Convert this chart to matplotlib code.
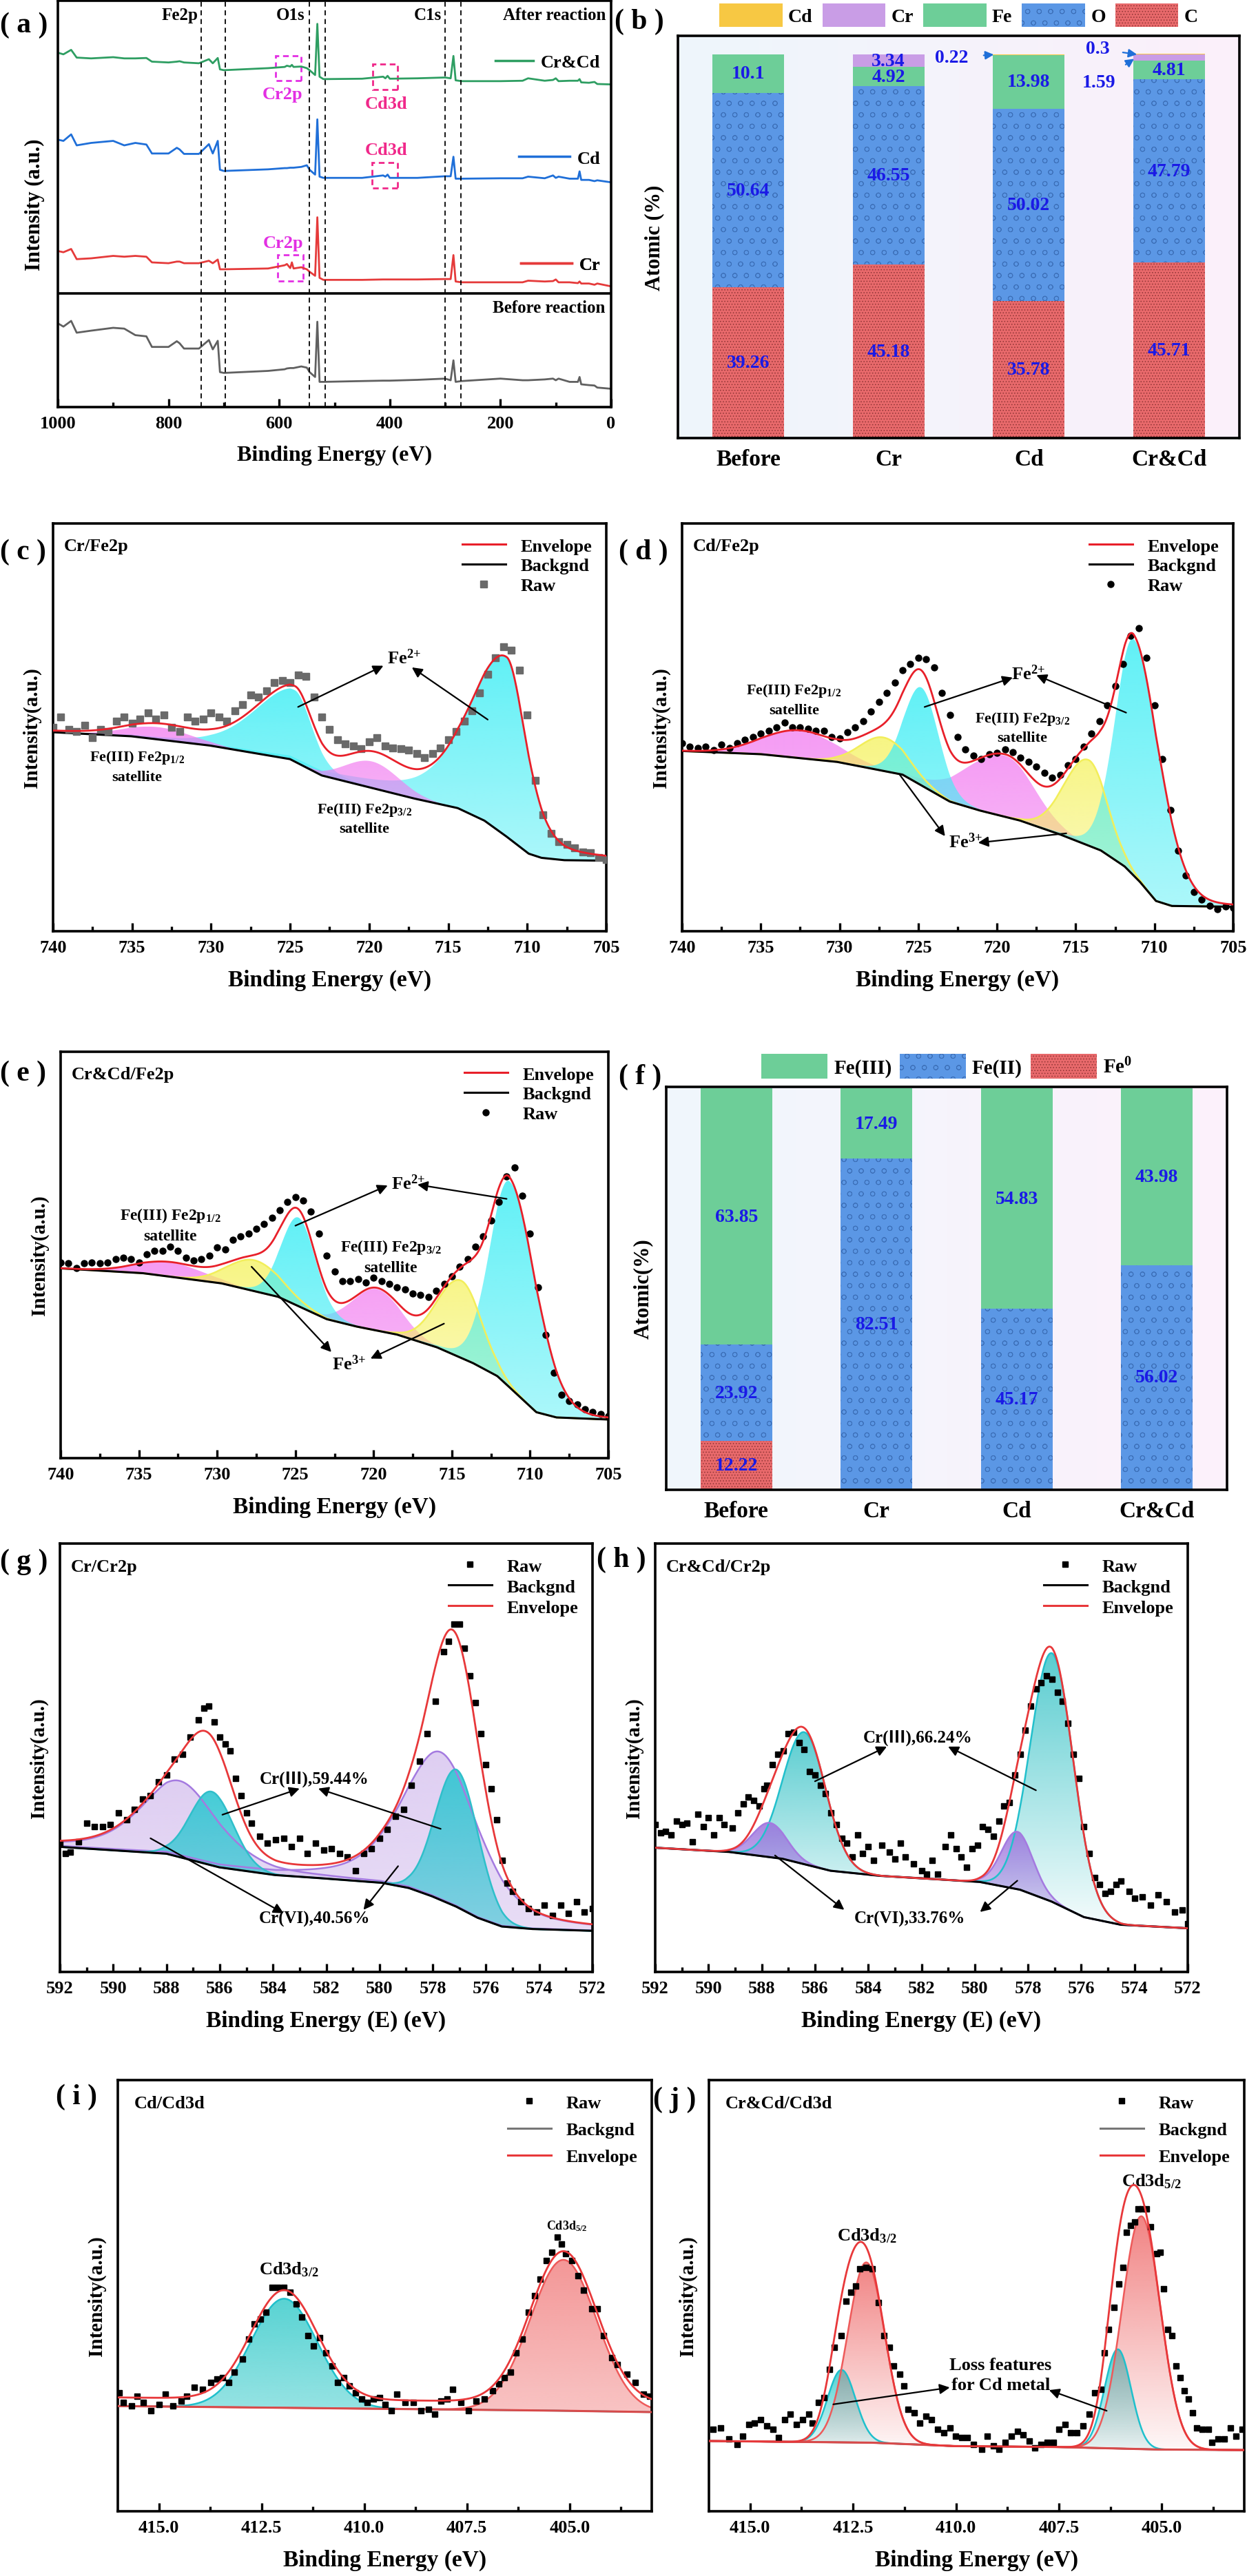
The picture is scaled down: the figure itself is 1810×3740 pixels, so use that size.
import numpy as np
import matplotlib
matplotlib.use("Agg")
import matplotlib.pyplot as plt
from matplotlib.colors import to_rgb
from matplotlib.lines import Line2D
from matplotlib.patches import Patch, Rectangle
from matplotlib.ticker import MultipleLocator, FormatStrFormatter

plt.rcParams['font.family'] = ['Liberation Serif', 'Noto Sans CJK SC']
plt.rcParams['font.weight'] = 'bold'
plt.rcParams['axes.labelweight'] = 'bold'
plt.rcParams['mathtext.default'] = 'regular'
plt.rcParams['axes.linewidth'] = 2.6
plt.rcParams['hatch.linewidth'] = 0.6

# ---------------- (a) survey spectra (y in % of panel height) ----------------
survey_x = [1000, 990, 976, 966, 940, 900, 880, 860, 840, 830, 800, 785, 780, 772, 745,
            727, 720, 711, 707, 700, 620, 590, 586, 580, 577, 574, 560, 550, 545, 535,
            531, 527, 520, 450, 412, 408, 404, 400, 350, 300, 290, 285, 281, 270, 200,
            160, 150, 120, 105, 100, 95, 75, 60, 57, 54, 40, 30, 25, 0]
survey_crcd = [87.2, 86.8, 87.9, 86.0, 85.8, 86.1, 85.8, 85.8, 85.9, 85.0, 84.8, 85.0, 85.1, 84.8, 84.6,
               85.6, 84.6, 85.9, 83.1, 82.9, 83.4, 83.7, 84.0, 83.8, 84.2, 83.7, 83.8, 83.4, 82.9, 81.7,
               94.3, 81.3, 80.7, 80.8, 81.3, 80.9, 81.5, 80.8, 80.9, 81.1, 80.9, 86.4, 80.4, 80.2, 80.2,
               80.3, 80.9, 80.3, 80.5, 80.9, 80.2, 80.3, 80.3, 80.7, 79.9, 79.8, 80.0, 79.5, 79.4]
survey_cd = [65.8, 65.5, 67.1, 64.4, 65.0, 65.5, 64.4, 65.0, 64.6, 62.4, 62.4, 63.8, 63.4, 62.3, 62.3,
             64.7, 62.4, 65.5, 58.4, 58.1, 58.5, 58.8, 58.8, 58.9, 58.9, 58.9, 59.1, 59.5, 58.4, 57.2,
             70.8, 56.7, 56.4, 56.4, 57.0, 56.7, 57.2, 56.4, 56.4, 56.8, 56.8, 61.6, 56.2, 56.2, 56.3,
             56.3, 56.7, 56.3, 57.0, 56.4, 56.7, 56.2, 56.2, 58.0, 55.9, 55.9, 55.6, 55.8, 55.3]
survey_cr = [38.4, 38.1, 38.9, 36.4, 36.6, 37.2, 37.0, 37.2, 37.0, 35.6, 35.4, 35.8, 35.8, 35.4, 35.4,
             36.0, 35.4, 36.3, 33.9, 33.9, 34.1, 34.9, 35.2, 34.2, 35.6, 34.1, 34.4, 33.9, 33.3, 32.3,
             46.7, 31.8, 31.3, 31.3, 31.4, 31.4, 31.4, 31.4, 31.4, 31.5, 31.5, 37.4, 30.9, 30.7, 30.7,
             30.7, 31.1, 30.9, 31.0, 31.4, 30.7, 30.7, 30.5, 30.9, 30.4, 30.4, 30.1, 30.4, 29.7]
survey_before = [20.6, 19.8, 21.2, 18.3, 18.8, 19.5, 19.3, 17.7, 17.4, 14.8, 14.8, 16.2, 15.7, 14.4, 14.4,
                 16.5, 14.2, 16.3, 8.6, 8.4, 8.9, 9.3, 9.5, 9.6, 9.6, 9.6, 10.0, 9.7, 8.6, 7.4,
                 21.0, 6.2, 6.2, 6.4, 6.5, 6.5, 6.5, 6.5, 6.7, 7.0, 6.6, 11.5, 6.2, 6.4, 7.0,
                 6.6, 6.6, 6.8, 7.0, 6.6, 7.0, 6.2, 6.2, 7.4, 5.6, 5.4, 5.3, 4.8, 4.5]
guide_lines = [741, 698, 545, 517, 300, 272]

# ---------------- (b) surface composition ----------------
samples = ['Before', 'Cr', 'Cd', 'Cr&Cd']
at_C = [39.26, 45.18, 35.78, 45.71]
at_O = [50.64, 46.55, 50.02, 47.79]
at_Fe = [10.1, 4.92, 13.98, 4.81]
at_Cr = [0, 3.34, 0, 1.59]
at_Cd = [0, 0, 0.22, 0.3]

# ---------------- (f) Fe valence ----------------
fe_0 = [12.22, 0, 0, 0]
fe_II = [23.92, 82.51, 45.17, 56.02]
fe_III = [63.85, 17.49, 54.83, 43.98]

# ---------------- (c) Cr/Fe2p ----------------
fe_raw_x = np.arange(740, 704.9, -0.5)
c_raw = [50.0, 52.5, 49.5, 49.0, 50.5, 47.5, 49.5, 49.0, 51.5, 52.5,
         51.0, 52.0, 53.5, 52.0, 53.0, 50.0, 49.0, 52.5, 51.5, 52.0,
         53.5, 52.5, 51.5, 54.0, 55.5, 58.0, 57.5, 59.0, 61.0, 61.5,
         61.0, 62.8, 62.5, 57.5, 52.5, 49.5, 47.0, 46.0, 45.5, 44.8,
         46.5, 47.5, 45.5, 45.0, 44.8, 44.5, 43.5, 42.5, 43.5, 45.0,
         47.0, 49.0, 51.5, 54.0, 58.5, 63.0, 67.0, 69.8, 69.0, 64.0,
         53.0, 37.0, 28.5, 24.0, 22.0, 21.3, 20.5, 19.5, 19.2, 18.0,
         17.5]
c_bg_x = [740, 735, 730, 725, 723, 720, 717, 714.4, 712.7, 711.2, 709.9, 709.1, 707.6, 705]
c_bg_y = [48.8, 47.8, 45.5, 42.2, 38.2, 35.3, 32.4, 30.2, 27.1, 22.9, 19.0, 18.0, 17.4, 17.3]
c_kind = ['Fe2+', 'Fe2+', 'sat', 'sat']
c_center = [711.3, 724.7, 719.8, 733.3]
c_height = [44.0, 17.5, 6.5, 3.0]
c_hw_high = [2.8, 3.0, 2.0, 2.5]
c_hw_low = [1.5, 1.3, 2.0, 2.5]
c_eta = [0.5, 0.3, 0.0, 0.0]

# ---------------- (d) Cd/Fe2p ----------------
d_raw = [46.1, 45.3, 44.9, 45.3, 44.5, 45.7, 44.9, 46.1, 46.9, 47.7,
         48.4, 49.2, 50.0, 51.2, 50.0, 50.0, 49.6, 49.2, 49.2, 47.7,
         47.3, 48.8, 50.0, 51.6, 53.9, 56.2, 58.5, 60.9, 64.0, 65.5,
         67.1, 66.7, 64.7, 58.5, 53.1, 47.7, 44.6, 43.0, 42.2, 43.4,
         43.8, 44.6, 44.0, 42.6, 41.5, 40.3, 38.8, 37.6, 38.4, 40.7,
         42.2, 45.3, 48.4, 51.6, 55.4, 60.1, 65.5, 72.5, 74.4, 67.1,
         55.4, 42.2, 29.8, 19.8, 13.6, 9.7, 7.8, 6.2, 5.4, 6.0,
         5.8]
d_bg_x = [740, 734.9, 730.1, 726, 723, 721, 718.5, 715.9, 713.4, 711.9, 710.9, 709.9, 708.9, 705]
d_bg_y = [44.2, 43.4, 41.5, 38.4, 31.8, 29.5, 27.1, 23.6, 19.8, 15.9, 12.0, 7.4, 6.2, 6.0]
d_kind = ['sat', 'sat', 'Fe3+', 'Fe3+', 'Fe2+', 'Fe2+']
d_center = [732.5, 719.5, 727.2, 714.2, 724.8, 711.3]
d_height = [6.7, 15.0, 8.2, 21.0, 24.0, 58.0]
d_hw_high = [2.8, 3.0, 1.8, 1.8, 1.3, 1.4]
d_hw_low = [2.8, 2.2, 1.8, 1.4, 1.3, 1.95]
d_eta = [0.0, 0.0, 0.0, 0.0, 0.1, 0.1]

# ---------------- (e) Cr&Cd/Fe2p ----------------
e_raw = [48.2, 47.9, 46.7, 47.9, 48.2, 47.9, 48.2, 49.0, 49.4, 49.0,
         48.2, 50.2, 51.0, 51.0, 52.1, 51.0, 49.4, 48.6, 49.0, 49.8,
         51.8, 51.4, 53.7, 54.5, 55.3, 56.4, 57.6, 59.1, 61.1, 63.0,
         64.2, 63.4, 60.7, 55.3, 49.8, 45.9, 43.6, 43.6, 44.0, 43.2,
         44.4, 43.6, 42.8, 42.0, 41.6, 40.5, 40.1, 39.7, 41.2, 42.8,
         44.7, 47.1, 49.0, 52.1, 54.5, 58.4, 63.0, 69.3, 71.5, 64.6,
         55.3, 42.0, 30.4, 21.0, 15.6, 14.0, 13.2, 12.1, 11.3, 10.9,
         10.3]
e_bg_x = [740, 734.7, 729.7, 726.1, 723, 721, 718.5, 715.9, 713.6, 712.1, 710.8, 709.6, 708.3, 705]
e_bg_y = [46.7, 45.5, 43.0, 39.7, 34.2, 32.3, 30.4, 27.2, 23.3, 20.2, 15.6, 11.3, 10.0, 9.5]
e_kind = ['sat', 'sat', 'Fe3+', 'Fe3+', 'Fe2+', 'Fe2+']
e_center = [733.0, 719.8, 727.6, 714.4, 724.8, 711.3]
e_height = [3.5, 10.2, 7.6, 19.0, 21.8, 50.7]
e_hw_high = [2.5, 1.8, 2.0, 1.8, 1.3, 1.5]
e_hw_low = [2.5, 1.8, 2.0, 1.5, 1.3, 2.0]
e_eta = [0.0, 0.0, 0.0, 0.0, 0.1, 0.1]

# ---------------- (g) Cr/Cr2p ----------------
g_raw_x = [592.0, 591.8, 591.6, 591.3, 591.0, 590.7, 590.4, 590.1, 589.8, 589.5, 589.2, 588.9,
           588.6, 588.3, 588.0, 587.7, 587.4, 587.1, 586.8, 586.6, 586.4, 586.2, 586.0, 585.8,
           585.6, 585.4, 585.2, 585.0, 584.8, 584.5, 584.2, 583.9, 583.6, 583.3, 583.0, 582.7,
           582.4, 582.1, 581.8, 581.5, 581.2, 580.9, 580.6, 580.3, 580.0, 579.7, 579.4, 579.1,
           578.8, 578.5, 578.2, 577.9, 577.6, 577.4, 577.2, 577.0, 576.8, 576.6, 576.4, 576.2,
           576.0, 575.8, 575.6, 575.4, 575.2, 575.0, 574.7, 574.4, 574.1, 573.8, 573.5, 573.2,
           572.9, 572.6, 572.3, 572.0]
g_raw_y = [30.0, 27.6, 28.0, 30.4, 34.8, 34.0, 34.0, 34.4, 37.2, 35.6, 38.0, 40.4,
           41.2, 44.4, 46.0, 49.6, 50.8, 54.8, 58.8, 61.6, 62.0, 58.4, 54.8, 53.2,
           51.6, 45.2, 41.2, 37.2, 34.8, 31.6, 30.0, 30.8, 31.2, 29.2, 31.2, 27.6,
           30.0, 28.4, 28.8, 27.6, 26.8, 23.6, 27.6, 28.8, 31.2, 33.2, 36.4, 38.0,
           43.6, 49.2, 55.6, 63.2, 74.8, 77.2, 81.2, 81.2, 75.6, 69.2, 62.8, 55.6,
           48.4, 42.8, 35.6, 26.0, 20.8, 18.8, 16.4, 14.8, 14.0, 15.6, 13.2, 15.6,
           13.6, 16.4, 14.0, 14.8]
g_bg_x = [592, 588, 586, 583.9, 582, 579.9, 578.9, 578, 577.1, 576.3, 575.4, 574.2, 572]
g_bg_y = [29.2, 27.6, 24.4, 22.6, 21.8, 20.8, 19.6, 17.6, 15.2, 12.6, 10.6, 10.0, 9.6]
g_kind = ['Cr6', 'Cr6', 'Cr3', 'Cr3']
g_center = [587.5, 577.7, 586.3, 577.1]
g_height = [17.8, 34.5, 17.2, 32.0]
g_hw_high = [1.7, 1.7, 0.95, 0.95]
g_hw_low = [1.7, 1.7, 0.95, 0.95]
g_eta = [0.5, 0.5, 0.0, 0.0]

# ---------------- (h) Cr&Cd/Cr2p ----------------
h_raw_x = [592.0, 591.8, 591.6, 591.4, 591.2, 591.0, 590.8, 590.6, 590.4, 590.2, 590.0, 589.8,
           589.6, 589.4, 589.1, 588.9, 588.7, 588.5, 588.3, 588.1, 587.9, 587.8, 587.6, 587.4,
           587.2, 587.0, 586.8, 586.6, 586.4, 586.2, 586.0, 585.8, 585.6, 585.4, 585.2, 585.0,
           584.8, 584.6, 584.4, 584.2, 584.0, 583.8, 583.5, 583.2, 583.0, 582.8, 582.6, 582.3,
           582.0, 581.8, 581.6, 581.4, 581.1, 580.9, 580.7, 580.5, 580.3, 580.1, 579.9, 579.7,
           579.5, 579.3, 579.1, 578.9, 578.7, 578.5, 578.3, 578.1, 577.9, 577.7, 577.5, 577.3,
           577.1, 576.9, 576.7, 576.5, 576.3, 576.1, 575.9, 575.7, 575.5, 575.3, 575.1, 574.9,
           574.7, 574.5, 574.2, 574.0, 573.7, 573.4, 573.1, 572.8, 572.5, 572.2, 572.0]
h_raw_y = [34.4, 32.4, 32.8, 32.0, 35.2, 34.4, 34.8, 30.4, 36.8, 34.0, 36.0, 32.0,
           36.0, 34.4, 33.6, 37.2, 39.2, 40.8, 40.0, 38.8, 42.8, 43.6, 48.4, 50.8,
           51.6, 55.6, 56.0, 53.6, 52.0, 46.8, 46.0, 43.6, 41.6, 37.2, 34.4, 31.2,
           30.0, 26.8, 32.0, 27.6, 29.2, 26.0, 29.6, 28.0, 26.4, 30.0, 26.8, 25.2,
           23.6, 22.8, 26.0, 22.8, 29.2, 32.0, 28.8, 26.8, 24.4, 28.8, 29.6, 34.0,
           33.2, 31.6, 35.2, 38.8, 39.6, 46.0, 50.8, 56.4, 62.0, 66.0, 67.6, 69.2,
           68.4, 65.2, 63.2, 58.0, 50.8, 45.2, 34.0, 27.6, 22.0, 20.4, 18.4, 18.8,
           20.4, 21.2, 18.8, 17.2, 17.6, 15.6, 18.0, 16.4, 14.0, 14.4, 11.2]
h_bg_x = [592, 589.2, 587.2, 585.4, 583.5, 581.3, 579.8, 578.3, 577.1, 575.9, 574.5, 572]
h_bg_y = [29.0, 28.0, 26.4, 23.6, 22.4, 21.6, 21.0, 19.2, 16.4, 12.8, 11.0, 10.2]
h_kind = ['Cr3', 'Cr3', 'Cr6', 'Cr6']
h_center = [586.4, 577.1, 587.7, 578.4]
h_height = [30.8, 58.0, 8.0, 13.4]
h_hw_high = [0.95, 0.95, 0.75, 0.7]
h_hw_low = [0.95, 0.95, 0.75, 0.7]
h_eta = [0.0, 0.0, 0.0, 0.0]

# ---------------- (i) Cd/Cd3d ----------------
i_raw_x = [415.96, 415.86, 415.67, 415.53, 415.38, 415.19, 415.00, 414.85, 414.66, 414.46,
           414.32, 414.13, 413.93, 413.74, 413.59, 413.45, 413.30, 413.16, 412.97, 412.82,
           412.68, 412.53, 412.39, 412.24, 412.10, 411.95, 411.81, 411.66, 411.52, 411.37,
           411.23, 411.08, 410.94, 410.79, 410.65, 410.50, 410.36, 410.21, 410.07, 409.92,
           409.78, 409.63, 409.49, 409.34, 409.20, 409.00, 408.81, 408.62, 408.43, 408.28,
           408.14, 407.99, 407.85, 407.65, 407.46, 407.27, 407.07, 406.88, 406.73, 406.59,
           406.44, 406.30, 406.15, 406.01, 405.86, 405.72, 405.57, 405.43, 405.29, 405.19,
           405.09, 404.95, 404.80, 404.66, 404.46, 404.32, 404.17, 403.98, 403.84, 403.60,
           403.40, 403.20, 403.05]
i_raw_y = [27.5, 25.2, 24.4, 26.7, 25.2, 23.3, 24.8, 27.1, 24.4, 25.6,
           26.7, 28.7, 28.3, 29.8, 30.6, 31.0, 29.8, 32.2, 35.3, 39.9,
           43.4, 44.6, 46.1, 51.9, 51.9, 51.9, 50.8, 48.1, 45.0, 40.7,
           38.4, 40.3, 36.8, 33.7, 29.8, 31.0, 29.1, 27.5, 26.0, 25.2,
           26.0, 26.4, 24.8, 23.3, 27.1, 25.2, 25.2, 23.3, 23.6, 22.5,
           25.6, 26.0, 28.3, 25.2, 23.3, 25.6, 26.0, 27.9, 29.5, 31.0,
           32.2, 36.8, 39.9, 46.1, 50.0, 53.9, 58.1, 60.1, 63.6, 62.0,
           59.7, 58.1, 54.7, 51.2, 46.9, 46.9, 40.7, 35.7, 34.1, 31.8,
           29.8, 27.1, 26.7]
i_bg_x = [416, 410, 405, 403]
i_bg_y = [24.4, 23.8, 23.3, 23.0]
i_kind = ['Cd32', 'Cd52']
i_center = [411.95, 405.15]
i_height = [25.3, 35.0]
i_hw_high = [0.95, 0.95]
i_hw_low = [0.95, 0.95]
i_eta = [0.0, 0.0]
i_env_offset = 2.0

# ---------------- (j) Cr&Cd/Cd3d ----------------
j_raw_x = [415.90, 415.71, 415.52, 415.32, 415.18, 415.03, 414.89, 414.74, 414.60, 414.45,
           414.31, 414.16, 414.02, 413.87, 413.73, 413.58, 413.49, 413.34, 413.20, 413.07,
           412.96, 412.78, 412.67, 412.55, 412.44, 412.33, 412.18, 412.04, 411.89, 411.75,
           411.62, 411.51, 411.36, 411.27, 411.17, 411.02, 410.88, 410.73, 410.59, 410.44,
           410.30, 410.15, 410.01, 409.86, 409.72, 409.57, 409.38, 409.24, 409.09, 408.95,
           408.80, 408.66, 408.51, 408.37, 408.22, 408.08, 407.93, 407.79, 407.64, 407.50,
           407.35, 407.21, 407.06, 406.92, 406.77, 406.63, 406.48, 406.39, 406.29, 406.17,
           406.05, 405.95, 405.86, 405.76, 405.66, 405.57, 405.47, 405.37, 405.28, 405.13,
           405.04, 404.96, 404.86, 404.76, 404.65, 404.55, 404.45, 404.36, 404.26, 404.16,
           404.02, 403.87, 403.78, 403.63, 403.49, 403.34, 403.20, 403.05]
j_raw_y = [19.0, 19.4, 16.7, 15.5, 17.4, 20.2, 20.5, 21.3, 19.8, 19.0,
           17.1, 21.3, 22.5, 20.2, 21.3, 22.5, 20.5, 25.2, 26.4, 32.9,
           38.0, 40.7, 48.8, 50.8, 52.3, 56.2, 56.6, 56.2, 48.4, 40.7,
           38.0, 33.7, 31.8, 29.1, 23.6, 22.9, 20.5, 22.1, 21.3, 19.0,
           18.2, 19.4, 17.4, 17.1, 17.1, 15.5, 14.3, 17.4, 15.1, 14.3,
           15.9, 17.4, 18.6, 17.8, 16.3, 14.7, 15.5, 15.9, 15.9, 19.0,
           20.2, 18.2, 18.2, 19.8, 22.5, 27.5, 28.3, 36.8, 42.2, 47.3,
           52.7, 56.6, 64.7, 66.3, 67.1, 70.2, 70.2, 70.2, 65.9, 59.7,
           60.1, 51.6, 42.2, 40.7, 33.7, 31.0, 27.9, 26.0, 22.9, 19.4,
           19.0, 19.0, 15.9, 16.7, 16.7, 19.4, 17.4, 19.0]
j_bg_x = [416, 412, 410, 407.5, 405, 403]
j_bg_y = [16.3, 15.9, 15.1, 14.9, 14.3, 14.2]
j_kind = ['loss', 'Cd', 'loss', 'Cd']
j_center = [412.78, 412.18, 406.07, 405.5]
j_height = [16.8, 41.8, 23.0, 54.0]
j_hw_high = [0.4, 0.53, 0.38, 0.55]
j_hw_low = [0.4, 0.53, 0.38, 0.55]
j_eta = [0.0, 0.0, 0.0, 0.0]

# ======================================================================
W, H = 1810, 3741
fig = plt.figure(figsize=(W / 100, H / 100), dpi=100)

TICK = 19
XLAB = 24


def add_box(l, t, r, b):
    return fig.add_axes([l / W, 1 - b / H, (r - l) / W, (b - t) / H])


def panel_label(x, y, s):
    fig.text(x / W, 1 - y / H, '( ' + s + ' )', fontsize=30, ha='left', va='center')


def pv(x, c, h, whi, wlo, eta):
    w = np.where(x >= c, whi, wlo)
    d = (x - c) / w
    return h * ((1 - eta) * np.exp(-np.log(2) * d ** 2) + eta / (1 + d ** 2))


def grad_fill(ax, x, lo, hi, color, a_top, a_bot, z):
    coll = ax.fill_between(x, lo, hi, facecolor='none', edgecolor='none')
    path = coll.get_paths()[0]
    g = np.zeros((256, 1, 4))
    g[..., :3] = to_rgb(color)
    g[:, 0, 3] = np.linspace(a_bot, a_top, 256)
    im = ax.imshow(g, extent=[x.min(), x.max(), lo.min(), hi.max()], origin='lower',
                   aspect='auto', zorder=z, interpolation='bilinear')
    im.set_clip_path(path, transform=ax.transData)


def fit_curves(ax, lim, bg_x, bg_y, centers, heights, whi, wlo, etas, kinds, style, offset=0.0):
    xs = np.linspace(min(lim), max(lim), 900)
    order = np.argsort(bg_x)
    bg = np.interp(xs, np.asarray(bg_x, float)[order], np.asarray(bg_y, float)[order])
    total = np.zeros_like(xs)
    for k, (c, h, a, b, e, kind) in enumerate(zip(centers, heights, whi, wlo, etas, kinds)):
        comp = pv(xs, c, h, a, b, e)
        total += comp
        col, a_top, a_bot, edge = style[kind]
        grad_fill(ax, xs, bg, bg + comp, col, a_top, a_bot, 1 + k * 0.01)
        if edge is not None:
            ax.plot(xs, bg + comp, color=edge, lw=1.8, zorder=2)
    return xs, bg, bg + total + offset


def spec_axes(ax, lim, major, minor, fmt=None, xlabel='Binding Energy (eV)'):
    ax.set_xlim(lim)
    ax.set_ylim(0, 100)
    ax.set_yticks([])
    ax.xaxis.set_major_locator(MultipleLocator(major))
    ax.xaxis.set_minor_locator(MultipleLocator(minor))
    if fmt:
        ax.xaxis.set_major_formatter(FormatStrFormatter(fmt))
    ax.tick_params(axis='x', which='major', direction='in', length=9, width=2.4, labelsize=TICK, pad=9)
    ax.tick_params(axis='x', which='minor', direction='in', length=5, width=2.4)
    ax.set_xlabel(xlabel, fontsize=XLAB, labelpad=14)
    ax.set_ylabel('Intensity(a.u.)', fontsize=21, labelpad=12)


def arrow(ax, start, end, color='black'):
    ax.annotate('', xy=end, xytext=start,
                arrowprops=dict(arrowstyle='-|>', color=color, lw=1.6, mutation_scale=22,
                                shrinkA=0, shrinkB=0), zorder=6)


# ---------------- (a) ----------------
ax = add_box(84, 2, 887, 592)
ax.plot(survey_x, survey_crcd, color='#2e9e62', lw=2)
ax.plot(survey_x, survey_cd, color='#1f6fd8', lw=2)
ax.plot(survey_x, survey_cr, color='#e53a3a', lw=2)
ax.plot(survey_x, survey_before, color='#606060', lw=2)
for gx in guide_lines:
    ax.axvline(gx, color='black', lw=1.3, ls=(0, (4, 3)))
ax.axhline(27.9, color='black', lw=2.6)
ax.set_xlim(1000, 0)
ax.set_ylim(0, 100)
ax.set_yticks([])
ax.xaxis.set_major_locator(MultipleLocator(200))
ax.xaxis.set_minor_locator(MultipleLocator(100))
ax.tick_params(axis='x', which='major', direction='in', length=9, width=2.4, labelsize=TICK, pad=9)
ax.tick_params(axis='x', which='minor', direction='in', length=5, width=2.4)
ax.set_xlabel('Binding Energy (eV)', fontsize=23, labelpad=14)
ax.set_ylabel('Intensity (a.u.)', fontsize=22, labelpad=14)
tr = ax.get_xaxis_transform()
ax.text(780, 0.965, 'Fe2p', transform=tr, ha='center', va='center', fontsize=18)
ax.text(580, 0.965, 'O1s', transform=tr, ha='center', va='center', fontsize=18)
ax.text(331, 0.965, 'C1s', transform=tr, ha='center', va='center', fontsize=18)
ax.text(9, 0.965, 'After reaction', transform=tr, ha='right', va='center', fontsize=18)
ax.text(11, 0.245, 'Before reaction', transform=tr, ha='right', va='center', fontsize=18)
for (x0, x1, y0, y1, col) in [(560, 607, 80.3, 86.5, '#e32fe3'), (386, 431, 78.2, 84.4, '#f0288a'),
                              (386, 432, 53.9, 60.1, '#f0288a'), (557, 603, 31.1, 37.5, '#e32fe3')]:
    ax.add_patch(Rectangle((x0, y0), x1 - x0, y1 - y0, fill=False, ec=col, lw=2, ls=(0, (3, 2))))
ax.text(594, 77.0, 'Cr2p', color='#e32fe3', ha='center', va='center', fontsize=19)
ax.text(407, 74.7, 'Cd3d', color='#f0288a', ha='center', va='center', fontsize=19)
ax.text(407, 63.3, 'Cd3d', color='#f0288a', ha='center', va='center', fontsize=19)
ax.text(593, 40.5, 'Cr2p', color='#e32fe3', ha='center', va='center', fontsize=19)
for name, col, yy, hl in [('Cr&Cd', '#2e9e62', 0.848, 2.1), ('Cd', '#1f6fd8', 0.612, 2.8),
                          ('Cr', '#e53a3a', 0.350, 2.8)]:
    lg = ax.legend([Line2D([], [], color=col, lw=2.5)], [name], loc='center right',
                   bbox_to_anchor=(1.0, yy), frameon=False, fontsize=19, handlelength=hl,
                   handletextpad=0.4, borderaxespad=0.2)
    ax.add_artist(lg)
panel_label(0, 37, 'a')


# ---------------- stacked bar helper ----------------
def bg_gradient(ax, left, right):
    g = np.zeros((1, 256, 3))
    for i in range(3):
        g[0, :, i] = np.linspace(left[i], right[i], 256) / 255
    ax.imshow(g, extent=[0, 1, 0, 1], transform=ax.transAxes, aspect='auto', zorder=0)


def stack(ax, series, styles, label_min=3):
    bottom = np.zeros(len(samples))
    for vals, (fc, hc, hatch) in zip(series, styles):
        vals = np.asarray(vals, float)
        ax.bar(range(len(samples)), vals, bottom=bottom, width=0.51, color=fc, edgecolor=hc,
               hatch=hatch, linewidth=0, zorder=2)
        for i, v in enumerate(vals):
            if v >= label_min:
                ax.text(i, bottom[i] + v / 2, f'{v:g}', ha='center', va='center', fontsize=20,
                        color='#1a1ae6', zorder=4)
        bottom += vals


sty_C = ('#e8696b', '#8e3434', '....')
sty_O = ('#5b97e5', '#3c6fb8', 'o')
sty_Fe = ('#6dce98', '#6dce98', None)
sty_Cr = ('#c99de6', '#c99de6', None)
sty_Cd = ('#f7c843', '#f7c843', None)

# ---------------- (b) ----------------
ax = add_box(984, 53, 1799, 637)
bg_gradient(ax, (238, 246, 252), (252, 240, 250))
stack(ax, [at_C, at_O, at_Fe, at_Cr, at_Cd], [sty_C, sty_O, sty_Fe, sty_Cr, sty_Cd])
ax.set_xlim(-0.5, 3.5)
ax.set_ylim(0, 104.8)
ax.set_yticks([])
ax.set_xticks(range(4))
ax.set_xticklabels(samples, fontsize=24)
ax.tick_params(axis='x', length=0, pad=11)
ax.set_ylabel('Atomic (%)', fontsize=22, labelpad=14)
blue = '#1a1ae6'
ax.annotate('0.22', xy=(1.75, 99.9), xytext=(1.45, 99.1), color=blue, fontsize=20, ha='center',
            va='center', arrowprops=dict(arrowstyle='-|>', color='#1f6fd8', lw=1.6, mutation_scale=18,
                                         shrinkA=14, shrinkB=0), zorder=6)
ax.annotate('0.3', xy=(2.77, 99.95), xytext=(2.49, 101.4), color=blue, fontsize=20, ha='center',
            va='center', arrowprops=dict(arrowstyle='-|>', color='#1f6fd8', lw=1.6, mutation_scale=18,
                                         shrinkA=12, shrinkB=0), zorder=6)
ax.annotate('1.59', xy=(2.75, 98.8), xytext=(2.50, 92.6), color=blue, fontsize=20, ha='center',
            va='center', arrowprops=dict(arrowstyle='-|>', color='#1f6fd8', lw=1.6, mutation_scale=18,
                                         shrinkA=14, shrinkB=0), zorder=6)
handles = [Patch(facecolor=s[0], edgecolor=s[1], hatch=s[2], linewidth=0)
           for s in [sty_Cd, sty_Cr, sty_Fe, sty_O, sty_C]]
ax.legend(handles, ['Cd', 'Cr', 'Fe', 'O', 'C'], loc='center', bbox_to_anchor=(0.5, 1 + 30 / 584),
          ncol=5, frameon=False, fontsize=20, handlelength=3.3, handleheight=1.5,
          handletextpad=0.3, columnspacing=0.5)
panel_label(892, 32, 'b')

# ---------------- Fe2p panels ----------------
fe_style = {'Fe2+': ('#45eef5', 0.85, 0.45, None),
            'Fe3+': ('#f5f25a', 0.75, 0.35, '#f2ee5a'),
            'sat': ('#f27af0', 0.75, 0.45, None)}
raw_c_style = dict(ls='none', marker='s', ms=6.5, color='#6a6a6a', zorder=4)
raw_dot_style = dict(ls='none', marker='o', ms=6.5, color='black', zorder=4)


def fe_panel(box, label_xy, label, title, bg_x, bg_y, centers, heights, whi, wlo, etas, kinds,
             raw, raw_style):
    ax = add_box(*box)
    lim = (740, 705)
    xs, bg, env = fit_curves(ax, lim, bg_x, bg_y, centers, heights, whi, wlo, etas, kinds, fe_style)
    ax.plot(xs, bg, color='black', lw=2.2, zorder=3)
    ax.plot(fe_raw_x, raw, **raw_style)
    ax.plot(xs, env, color='#e8202a', lw=2, zorder=5)
    spec_axes(ax, lim, 5, 2.5)
    ax.text(0.02, 0.965, title, transform=ax.transAxes, fontsize=19, ha='left', va='top')
    hd = [Line2D([], [], color='#e8202a', lw=2.2), Line2D([], [], color='black', lw=2.2),
          Line2D([], [], **{k: v for k, v in raw_style.items() if k != 'zorder'})]
    ax.legend(hd, ['Envelope', 'Backgnd', 'Raw'], loc='upper right', frameon=False, fontsize=19,
              handlelength=2.4, labelspacing=0.2, borderaxespad=0.4)
    panel_label(*label_xy, label)
    return ax


ax = fe_panel((77, 761, 880, 1353), (0, 802), 'c', 'Cr/Fe2p', c_bg_x, c_bg_y, c_center, c_height,
              c_hw_high, c_hw_low, c_eta, c_kind, c_raw, raw_c_style)
ax.text(717.8, 67.1, 'Fe$^{2{+}}$', fontsize=19, ha='center', va='center')
arrow(ax, (724.5, 55.0), (719.1, 65.1))
arrow(ax, (712.5, 51.9), (717.3, 64.7))
ax.text(734.7, 40.5, 'Fe(III) Fe2p$_{1/2}$\nsatellite', fontsize=16, ha='center', va='center',
        linespacing=1.45)
ax.text(720.3, 27.7, 'Fe(III) Fe2p$_{3/2}$\nsatellite', fontsize=16, ha='center', va='center',
        linespacing=1.45)

ax = fe_panel((990, 761, 1790, 1353), (898, 802), 'd', 'Cd/Fe2p', d_bg_x, d_bg_y, d_center, d_height,
              d_hw_high, d_hw_low, d_eta, d_kind, d_raw, raw_dot_style)
ax.text(718.0, 63.2, 'Fe$^{2{+}}$', fontsize=19, ha='center', va='center')
arrow(ax, (724.6, 55.0), (719.0, 62.2))
arrow(ax, (711.8, 53.6), (717.5, 62.8))
ax.text(722.0, 22.1, 'Fe$^{3{+}}$', fontsize=19, ha='center', va='center')
arrow(ax, (726.2, 38.5), (723.3, 23.3))
arrow(ax, (715.6, 24.0), (721.2, 21.7))
ax.text(732.9, 56.9, 'Fe(III) Fe2p$_{1/2}$\nsatellite', fontsize=16, ha='center', va='center',
        linespacing=1.45)
ax.text(718.4, 50.0, 'Fe(III) Fe2p$_{3/2}$\nsatellite', fontsize=16, ha='center', va='center',
        linespacing=1.45)

ax = fe_panel((88, 1528, 883, 2118), (0, 1559), 'e', 'Cr&Cd/Fe2p', e_bg_x, e_bg_y, e_center, e_height,
              e_hw_high, e_hw_low, e_eta, e_kind, e_raw, raw_dot_style)
ax.text(717.8, 67.7, 'Fe$^{2{+}}$', fontsize=19, ha='center', va='center')
arrow(ax, (725.0, 57.2), (719.1, 67.1))
arrow(ax, (711.5, 63.8), (717.2, 67.3))
ax.text(721.6, 23.3, 'Fe$^{3{+}}$', fontsize=19, ha='center', va='center')
arrow(ax, (727.8, 47.1), (722.7, 26.1))
arrow(ax, (715.5, 33.1), (720.2, 24.5))
ax.text(733.0, 57.4, 'Fe(III) Fe2p$_{1/2}$\nsatellite', fontsize=17, ha='center', va='center',
        linespacing=1.45)
ax.text(718.9, 49.6, 'Fe(III) Fe2p$_{3/2}$\nsatellite', fontsize=17, ha='center', va='center',
        linespacing=1.45)

# ---------------- (f) ----------------
ax = add_box(967, 1579, 1781, 2164)
bg_gradient(ax, (240, 247, 253), (253, 241, 251))
stack(ax, [fe_0, fe_II, fe_III], [sty_C, sty_O, sty_Fe])
ax.set_xlim(-0.5, 3.5)
ax.set_ylim(0, 100.4)
ax.set_yticks([])
ax.set_xticks(range(4))
ax.set_xticklabels(samples, fontsize=24)
ax.tick_params(axis='x', length=0, pad=11)
ax.set_ylabel('Atomic(%)', fontsize=22, labelpad=14)
handles = [Patch(facecolor=s[0], edgecolor=s[1], hatch=s[2], linewidth=0) for s in [sty_Fe, sty_O, sty_C]]
ax.legend(handles, ['Fe(III)', 'Fe(II)', 'Fe$^{0}$'], loc='center', bbox_to_anchor=(0.5, 1 + 30 / 585),
          ncol=3, frameon=False, fontsize=21, handlelength=3.3, handleheight=1.5,
          handletextpad=0.3, columnspacing=0.4)
panel_label(898, 1564, 'f')

# ---------------- Cr2p panels ----------------
cr_style_g = {'Cr3': ('#2fc6d2', 0.9, 0.55, '#2fbfca'),
              'Cr6': ('#d9c6f0', 0.85, 0.6, '#a47ae0')}
cr_style_h = {'Cr3': ('#3cc4c8', 0.85, 0.05, '#22c0cc'),
              'Cr6': ('#9a70dd', 0.85, 0.2, '#a47ae0')}
raw_sq = dict(ls='none', marker='s', ms=5.5, color='black', zorder=4)


def cr_legend(ax, bg_color='black', spacing=0.25):
    hd = [Line2D([], [], ls='none', marker='s', ms=6, color='black'),
          Line2D([], [], color=bg_color, lw=2.2), Line2D([], [], color='#e8383a', lw=2.2)]
    ax.legend(hd, ['Raw', 'Backgnd', 'Envelope'], loc='upper right', frameon=False, fontsize=19,
              handlelength=2.4, labelspacing=spacing, borderaxespad=0.4)


ax = add_box(87, 2242, 860, 2864)
lim = (592, 572)
xs, bg, env = fit_curves(ax, lim, g_bg_x, g_bg_y, g_center, g_height, g_hw_high, g_hw_low, g_eta,
                         g_kind, cr_style_g)
ax.plot(xs, bg, color='black', lw=2.2, zorder=3)
ax.plot(g_raw_x, g_raw_y, **raw_sq)
ax.plot(xs, env, color='#e8383a', lw=2, zorder=5)
spec_axes(ax, lim, 2, 1, xlabel='Binding Energy (E) (eV)')
ax.text(0.02, 0.965, 'Cr/Cr2p', transform=ax.transAxes, fontsize=19, ha='left', va='top')
cr_legend(ax)
ax.text(582.45, 45.2, 'Cr(\u2162),59.44%', fontsize=18, ha='center', va='center', zorder=6)
arrow(ax, (585.9, 36.7), (583.0, 42.8))
arrow(ax, (577.7, 33.4), (582.3, 42.8))
ax.text(582.45, 12.4, 'Cr(VI),40.56%', fontsize=18, ha='center', va='center', zorder=6)
arrow(ax, (588.6, 31.2), (583.6, 13.7))
arrow(ax, (579.3, 24.7), (580.6, 14.5))
panel_label(0, 2268, 'g')

ax = add_box(951, 2242, 1724, 2864)
xs, bg, env = fit_curves(ax, lim, h_bg_x, h_bg_y, h_center, h_height, h_hw_high, h_hw_low, h_eta,
                         h_kind, cr_style_h)
ax.plot(xs, bg, color='black', lw=2.2, zorder=3)
ax.plot(h_raw_x, h_raw_y, **raw_sq)
ax.plot(xs, env, color='#e8383a', lw=2, zorder=5)
spec_axes(ax, lim, 2, 1, xlabel='Binding Energy (E) (eV)')
ax.text(0.02, 0.965, 'Cr&Cd/Cr2p', transform=ax.transAxes, fontsize=19, ha='left', va='top')
cr_legend(ax)
ax.text(582.15, 54.8, 'Cr(\u2162),66.24%', fontsize=18, ha='center', va='center', zorder=6)
arrow(ax, (586.0, 44.5), (583.3, 52.6))
arrow(ax, (577.7, 42.4), (581.0, 52.6))
ax.text(582.45, 12.4, 'Cr(VI),33.76%', fontsize=18, ha='center', va='center', zorder=6)
arrow(ax, (587.5, 27.2), (584.9, 14.5))
arrow(ax, (578.4, 21.3), (579.8, 14.0))
panel_label(866, 2265, 'h')

# ---------------- Cd3d panels ----------------
cd_style_i = {'Cd32': ('#2ec8c8', 0.8, 0.5, '#1fc0cc'),
              'Cd52': ('#ef6a6a', 0.7, 0.4, '#ee5a5a')}
cd_style_j = {'loss': ('#30caca', 0.85, 0.1, '#1fc0cc'),
              'Cd': ('#ee6464', 0.8, 0.05, '#ee5a5a')}

ax = add_box(171, 3021, 946, 3647)
lim = (416, 403)
xs, bg, env = fit_curves(ax, lim, i_bg_x, i_bg_y, i_center, i_height, i_hw_high, i_hw_low, i_eta,
                         i_kind, cd_style_i, offset=i_env_offset)
ax.plot(xs, bg, color='#d84a4a', lw=2.2, zorder=3)
ax.plot(i_raw_x, i_raw_y, **dict(raw_sq, ms=6))
ax.plot(xs, env, color='#e8383a', lw=2, zorder=5)
spec_axes(ax, lim, 2.5, 1.25, '%.1f')
ax.text(0.03, 0.965, 'Cd/Cd3d', transform=ax.transAxes, fontsize=19, ha='left', va='top')
cr_legend(ax, '#777777', spacing=0.6)
ax.text(411.83, 56.2, 'Cd3d$_{3/2}$', fontsize=19, ha='center', va='center')
ax.text(405.06, 66.3, 'Cd3d$_{5/2}$', fontsize=13, ha='center', va='center')
panel_label(81, 3045, 'i')

ax = add_box(1029, 3021, 1806, 3647)
xs, bg, env = fit_curves(ax, lim, j_bg_x, j_bg_y, j_center, j_height, j_hw_high, j_hw_low, j_eta,
                         j_kind, cd_style_j)
ax.plot(xs, bg, color='#d84a4a', lw=2.2, zorder=3)
ax.plot(j_raw_x, j_raw_y, **dict(raw_sq, ms=6))
ax.plot(xs, env, color='#e8383a', lw=2, zorder=5)
spec_axes(ax, lim, 2.5, 1.25, '%.1f')
ax.text(0.03, 0.965, 'Cr&Cd/Cd3d', transform=ax.transAxes, fontsize=19, ha='left', va='top')
cr_legend(ax, '#777777', spacing=0.6)
ax.text(412.16, 64.1, 'Cd3d$_{3/2}$', fontsize=19, ha='center', va='center')
ax.text(405.25, 76.7, 'Cd3d$_{5/2}$', fontsize=19, ha='center', va='center')
ax.text(408.92, 31.6, 'Loss features\nfor Cd metal', fontsize=19, ha='center', va='center',
        linespacing=1.3, zorder=6)
arrow(ax, (412.98, 24.8), (410.15, 28.7))
arrow(ax, (406.34, 23.3), (407.74, 28.1))
panel_label(948, 3049, 'j')

fig.savefig('out.png', dpi=100)
